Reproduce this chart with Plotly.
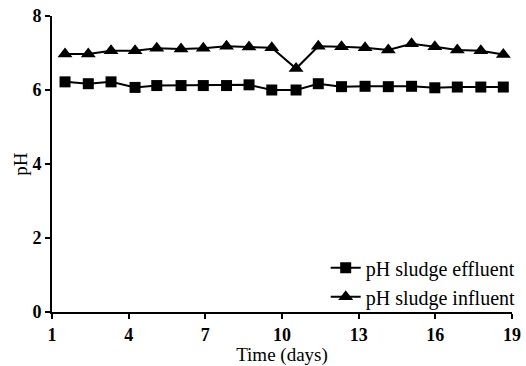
import plotly.graph_objects as go

days = [1.51, 2.42, 3.31, 4.25, 5.10, 6.05, 6.92, 7.83, 8.71, 9.60,
        10.55, 11.42, 12.33, 13.25, 14.16, 15.07, 15.98, 16.86, 17.78, 18.66]
effluent = [6.22, 6.17, 6.22, 6.07, 6.12, 6.12, 6.12, 6.12, 6.14, 6.00,
            6.00, 6.17, 6.09, 6.10, 6.09, 6.10, 6.06, 6.08, 6.08, 6.08]
influent = [6.97, 6.97, 7.06, 7.06, 7.13, 7.11, 7.13, 7.18, 7.16, 7.14,
            6.58, 7.18, 7.17, 7.14, 7.08, 7.25, 7.17, 7.08, 7.06, 6.96]
xticks = [1, 4, 7, 10, 13, 16, 19]
yticks = [0, 2, 4, 6, 8]

fig = go.Figure()
fig.add_trace(go.Scatter(x=days, y=effluent, mode="lines+markers",
                         name="pH sludge effluent",
                         line=dict(color="black", width=2),
                         marker=dict(symbol="square", size=11, color="black")))
fig.add_trace(go.Scatter(x=days, y=influent, mode="lines+markers",
                         name="pH sludge influent",
                         line=dict(color="black", width=2),
                         marker=dict(symbol="triangle-up", size=13, color="black")))

axis_common = dict(showgrid=False, zeroline=False, showline=True, linecolor="black",
                   linewidth=2, ticks="outside", ticklen=5, tickwidth=2, tickcolor="black",
                   automargin=False,
                   tickfont=dict(family="Liberation Serif", size=18, color="black", weight="bold"))
title_font = dict(family="Liberation Serif", size=19, color="black")
fig.update_xaxes(range=[1, 19], tickvals=xticks,
                 title=dict(text="Time (days)", standoff=11, font=title_font), **axis_common)
fig.update_yaxes(range=[0, 8], tickvals=yticks,
                 title=dict(text="pH", standoff=0, font=title_font), **axis_common)

fig.update_layout(width=526, height=366, margin=dict(l=52, r=14, t=16, b=54, autoexpand=False),
                  plot_bgcolor="white", paper_bgcolor="white",
                  showlegend=True,
                  legend=dict(x=0.595, y=0.215, xanchor="left", yanchor="top",
                              font=dict(family="Liberation Serif", size=20, color="black"),
                              bgcolor="rgba(0,0,0,0)", tracegroupgap=0, itemwidth=30))
fig.write_html("out.html")
